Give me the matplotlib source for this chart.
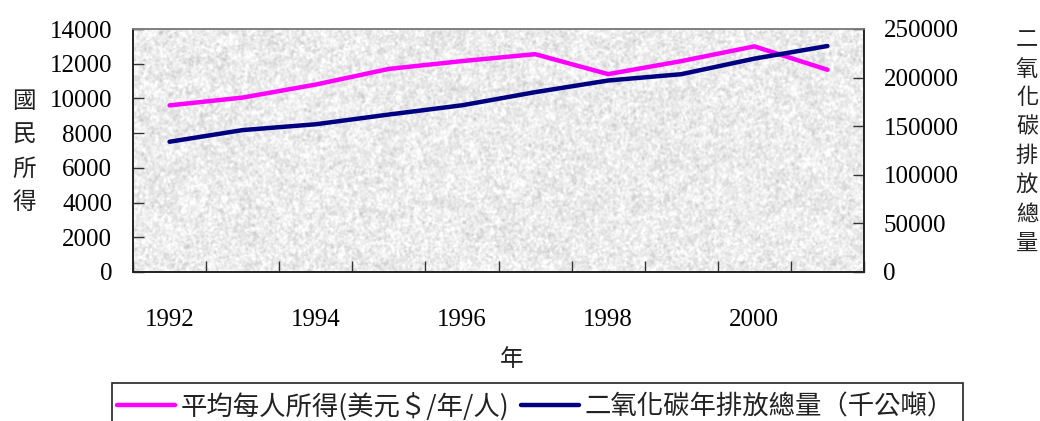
import numpy as np
import matplotlib
matplotlib.use("Agg")
import matplotlib.pyplot as plt
from matplotlib.lines import Line2D
from matplotlib.patches import Rectangle

# ---- data ----
years = [1992, 1993, 1994, 1995, 1996, 1997, 1998, 1999, 2000, 2001]
income = [9600, 10050, 10800, 11700, 12150, 12550, 11400, 12150, 13000, 11650]
co2 = [134000, 146000, 152000, 162000, 171500, 185000, 197000, 203500, 219500, 232500]
year_labels = ["1992", "1994", "1996", "1998", "2000"]
income_name = "平均每人所得(美元＄/年/人)"
co2_name = "二氧化碳年排放總量（千公噸）"
left_title = "國民所得"
right_title = "二氧化碳排放總量"
x_title = "年"

CJK = ["Noto Sans CJK TC", "DejaVu Sans"]
SERIF = ["Liberation Serif", "DejaVu Serif"]

W, H = 1040, 421
fig = plt.figure(figsize=(W / 100, H / 100), dpi=100)
fig.patch.set_facecolor("white")

ax_l, ax_r, ax_b, ax_t = 133, 864, 272, 29
ax = fig.add_axes([ax_l / W, 1 - ax_b / H, (ax_r - ax_l) / W, (ax_b - ax_t) / H])
ax2 = ax.twinx()

# granite-like plot-area fill
def blur(a, s):
    r = int(3 * s) + 1
    k = np.exp(-0.5 * (np.arange(-r, r + 1) / s) ** 2)
    k /= k.sum()
    a = np.apply_along_axis(lambda v: np.convolve(v, k, mode="same"), 0, a)
    a = np.apply_along_axis(lambda v: np.convolve(v, k, mode="same"), 1, a)
    return a

rng = np.random.default_rng(7)
th, tw = ax_b - ax_t, ax_r - ax_l
n1 = blur(rng.normal(size=(th + 20, tw + 20)), 0.9)[10:-10, 10:-10]
n2 = blur(rng.normal(size=(th + 40, tw + 40)), 3.0)[20:-20, 20:-20]
n1 /= n1.std()
n2 /= n2.std()
tex = np.clip(0.925 + 0.035 * n1 + 0.012 * n2, 0.75, 1.0)
ax.imshow(tex, cmap="gray", vmin=0, vmax=1, extent=[0, 1, 0, 1],
          transform=ax.transAxes, aspect="auto", interpolation="bilinear", zorder=0)

x = np.arange(len(years))
ax.plot(x, income, color="#FF00FF", lw=3.2, solid_capstyle="round", zorder=3)
ax2.plot(x, co2, color="#000080", lw=3.2, solid_capstyle="round", zorder=3)

ax.set_xlim(-0.5, len(years) - 0.5)
ax.set_ylim(0, 14000)
ax2.set_ylim(0, 250000)
ax.set_yticks(np.arange(0, 14001, 2000))
ax2.set_yticks(np.arange(0, 250001, 50000))

ax.set_xticks(np.arange(-0.5, len(years), 1.0))
ax.set_xticklabels([])
ax.set_xticks(np.arange(0, len(years), 2), minor=True)
ax.set_xticklabels(year_labels, minor=True)
ax.tick_params(axis="x", which="major", direction="in", length=8, width=1, color="#333333")
ax.tick_params(axis="x", which="minor", length=0, pad=27, labelsize=18)
ax.tick_params(axis="y", direction="in", length=8, width=1, color="#333333", pad=15, labelsize=18)
ax2.tick_params(axis="y", direction="in", length=8, width=1, color="#333333", pad=14, labelsize=18)
for lab in ax.get_xticklabels(minor=True) + ax.get_yticklabels() + ax2.get_yticklabels():
    lab.set_fontfamily(SERIF)

for a in (ax, ax2):
    for s in ("left", "bottom", "right"):
        a.spines[s].set_color("#222222")
        a.spines[s].set_linewidth(1.2)
    a.spines["top"].set_color("#808080")
    a.spines["top"].set_linewidth(1.2)
ax2.patch.set_visible(False)

# stacked vertical axis titles
for i, ch in enumerate(left_title):
    fig.text(24 / W, 1 - (102 + 33.5 * i) / H, ch, ha="center", va="center",
             fontsize=17, family=CJK, color="#222222")
for i, ch in enumerate(right_title):
    fig.text(1027 / W, 1 - (40 + 29 * i) / H, ch, ha="center", va="center",
             fontsize=16, family=CJK, color="#222222")
fig.text(512 / W, 1 - 359 / H, x_title, ha="center", va="center",
         fontsize=17, family=CJK, color="#222222")

# legend box runs on past the lower edge of the figure
fig.patches.append(Rectangle((112 / W, -0.2), (963 - 112) / W, 0.2 + 1 - 383 / H,
                             transform=fig.transFigure, facecolor="white",
                             edgecolor="#222222", linewidth=1.2, zorder=0))
handles = [Line2D([], [], color="#FF00FF", lw=3.2, solid_capstyle="round"),
           Line2D([], [], color="#000080", lw=3.2, solid_capstyle="round")]
leg = fig.legend(handles, [income_name, co2_name], loc="upper left",
                 bbox_to_anchor=(117 / W, 1 - 392 / H),
                 ncol=2, frameon=False,
                 prop={"family": CJK, "size": 19}, handlelength=2.2,
                 handletextpad=0.2, columnspacing=0.45, borderpad=0.0,
                 borderaxespad=0)
for t in leg.get_texts():
    t.set_color("#222222")

fig.savefig("out.png", dpi=100)
